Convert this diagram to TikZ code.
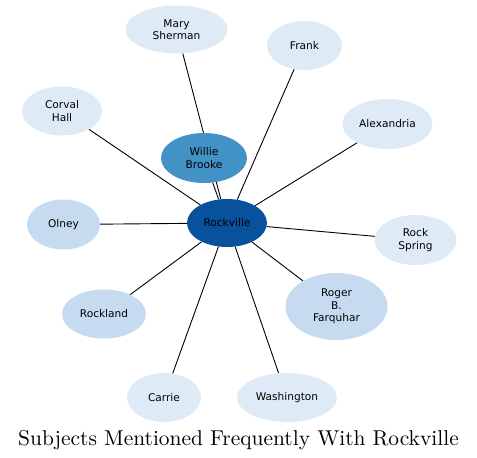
\documentclass[tikz,border=0pt]{standalone}
\usepackage{fontspec}
\newfontfamily\nodefont{DejaVu Sans}
\usetikzlibrary{shapes.geometric}
\pgfdeclarelayer{background}
\pgfsetlayers{background,main}
\definecolor{cdark}{HTML}{08519C}
\definecolor{cmid}{HTML}{4292C6}
\definecolor{clight}{HTML}{C6DBEF}
\definecolor{cpale}{HTML}{DEEBF7}
\tikzset{
  x=1pt, y=-1pt,
  subj/.style={ellipse, draw=none, inner sep=0pt, align=center,
    font=\nodefont\fontsize{10.6}{12.5}\selectfont, text=black},
  edge/.style={draw=black, line width=0.9pt},
}
\begin{document}
\begin{tikzpicture}
\useasboundingbox (0,0) rectangle (477,458);
\node[subj, fill=cdark, minimum width=80pt, minimum height=48pt] (rv) at (227,223) {Rockville};
\node[subj, fill=cmid, minimum width=86pt, minimum height=50pt] (wb) at (204,158) {Willie\\Brooke};
\node[subj, fill=cpale, minimum width=102pt, minimum height=48pt] (ms) at (176.5,29.5) {Mary\\Sherman};
\node[subj, fill=cpale, minimum width=75pt, minimum height=49pt] (fr) at (304.5,45.5) {Frank};
\node[subj, fill=cpale, minimum width=80pt, minimum height=49pt] (ch) at (62,111) {Corval\\Hall};
\node[subj, fill=cpale, minimum width=90pt, minimum height=50pt] (al) at (387.5,124) {Alexandria};
\node[subj, fill=clight, minimum width=73pt, minimum height=50pt] (ol) at (63.5,224.5) {Olney};
\node[subj, fill=cpale, minimum width=82pt, minimum height=50pt] (rs) at (415.5,240) {Rock\\Spring};
\node[subj, fill=clight, minimum width=84pt, minimum height=49pt] (rl) at (104,314) {Rockland};
\node[subj, fill=clight, minimum width=102pt, minimum height=67pt] (rf) at (336.5,306.5) {Roger\\B.\\Farquhar};
\node[subj, fill=cpale, minimum width=74pt, minimum height=49pt] (ca) at (164,397.5) {Carrie};
\node[subj, fill=cpale, minimum width=100pt, minimum height=49pt] (wa) at (287,397.5) {Washington};
\node[font=\fontsize{10}{12}\selectfont, scale=2.145, anchor=base, inner sep=0pt] (title) at (238.5,445) {Subjects Mentioned Frequently With Rockville};
\begin{pgfonlayer}{background}
\draw[edge] (ms) -- (rv);
\draw[edge] (wb) -- (rv);
\draw[edge] (fr) -- (rv);
\draw[edge] (ch) -- (rv);
\draw[edge] (al) -- (rv);
\draw[edge] (ol) -- (rv);
\draw[edge] (rs) -- (rv);
\draw[edge] (rl) -- (rv);
\draw[edge] (rf) -- (rv);
\draw[edge] (ca) -- (rv);
\draw[edge] (wa) -- (rv);
\end{pgfonlayer}
\end{tikzpicture}
\end{document}
